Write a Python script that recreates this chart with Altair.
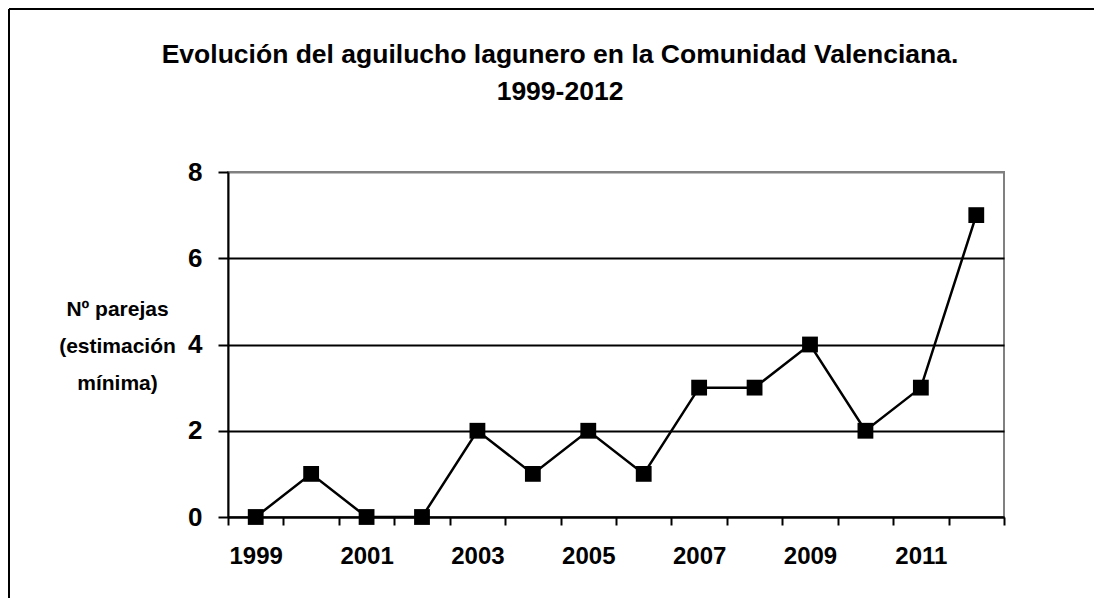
import altair as alt
import pandas as pd

years = [str(y) for y in range(1999, 2013)]
pairs = [0, 1, 0, 0, 2, 1, 2, 1, 3, 3, 4, 2, 3, 7]
y_ticks = [0, 2, 4, 6, 8]

title_lines = ["Evolución del aguilucho lagunero en la Comunidad Valenciana.", "1999-2012"]
y_title_lines = ["Nº parejas", "(estimación", "mínima)"]

df = pd.DataFrame({"year": years, "pairs": pairs})
FONT = "Liberation Sans"

x_enc = alt.X(
    "year:N",
    scale=alt.Scale(type="band", paddingInner=0, paddingOuter=0),
    axis=alt.Axis(
        title=None,
        tickBand="extent",
        labelExpr="toNumber(datum.value) % 2 == 1 ? datum.value : ''",
        labelFont=FONT, labelFontSize=24, labelFontWeight="bold", labelColor="black",
        labelPadding=19, labelAngle=0,
        tickSize=8, tickWidth=2, tickColor="black",
        domainColor="black", domainWidth=2,
        grid=False,
    ),
)
y_enc = alt.Y(
    "pairs:Q",
    scale=alt.Scale(domain=[0, 8], nice=False),
    axis=alt.Axis(
        values=y_ticks,
        title=y_title_lines,
        titleAngle=0, titleAlign="center", titleBaseline="middle",
        titleX=-111, titleY=137, titleLineHeight=37,
        titleFont=FONT, titleFontSize=21, titleFontWeight="bold", titleColor="black",
        labelFont=FONT, labelFontSize=26, labelFontWeight="bold", labelColor="black",
        labelPadding=16,
        tickSize=10, tickWidth=2, tickColor="black",
        domainColor="black", domainWidth=2,
        grid=True, gridWidth=2,
        gridColor={"condition": {"test": "datum.value == 8", "value": "#808080"}, "value": "black"},
    ),
)

line = alt.Chart(df).mark_line(color="black", strokeWidth=2.5).encode(x=x_enc, y=y_enc)
pts = alt.Chart(df).mark_point(shape="square", filled=True, size=250, color="black", opacity=1).encode(
    x="year:N", y="pairs:Q"
)

one = pd.DataFrame({"k": [0]})
border_left = alt.Chart(one).mark_rule(color="black", strokeWidth=2).encode(
    x=alt.value(-219), x2=alt.value(-219), y=alt.value(-163), y2=alt.value(426)
)
border_top = alt.Chart(one).mark_rule(color="black", strokeWidth=2).encode(
    x=alt.value(-219), x2=alt.value(866), y=alt.value(-163), y2=alt.value(-163)
)

title1 = alt.Chart(pd.DataFrame({"line": [title_lines[0]]})).mark_text(
    font=FONT, fontSize=26.5, fontWeight="bold", color="black", align="center", baseline="middle"
).encode(text="line:N", x=alt.value(332), y=alt.value(-117))
title2 = alt.Chart(pd.DataFrame({"line": [title_lines[1]]})).mark_text(
    font=FONT, fontSize=26.5, fontWeight="bold", color="black", align="center", baseline="middle"
).encode(text="line:N", x=alt.value(332), y=alt.value(-80))

chart = (
    alt.layer(line, pts, border_left, border_top, title1, title2)
    .properties(
        width=776,
        height=345,
        padding={"left": 220, "top": 164, "right": 90, "bottom": 81},
        autosize=alt.AutoSizeParams(type="none"),
        background="white",
    )
    .configure_view(stroke="#808080", strokeWidth=2)
)

chart.save("out.html", embed_options={"renderer": "svg", "actions": False})
